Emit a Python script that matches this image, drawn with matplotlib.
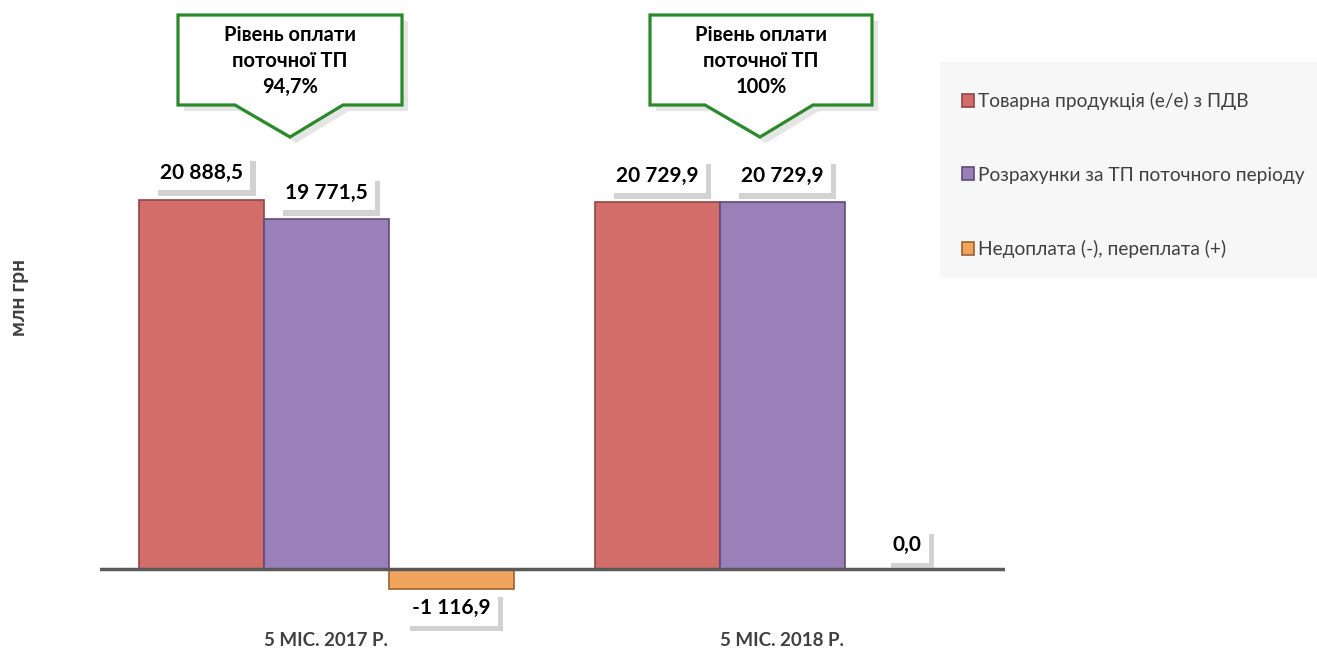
import numpy as np
import matplotlib.pyplot as plt
import matplotlib.patheffects as pe
from matplotlib.patches import Polygon, Rectangle

plt.rcParams['font.family'] = ['Lato', 'Open Sans', 'DejaVu Sans']

# дані
periods = ['5 МІС. 2017 Р.', '5 МІС. 2018 Р.']
series = ['Товарна продукція (е/е) з ПДВ',
          'Розрахунки за ТП поточного періоду',
          'Недоплата (-), переплата (+)']
produced = [20888.5, 20729.9]
paid = [19771.5, 20729.9]
balance = [-1116.9, 0.0]
pay_level = ['94,7%', '100%']
labels = [['20 888,5', '20 729,9'], ['19 771,5', '20 729,9'], ['-1 116,9', '0,0']]

colors = ['#D36D6A', '#9A80B9', '#F0A45E']
edges = ['#8E4644', '#5F4B78', '#9C6230']

W, H = 1317, 649
fig = plt.figure(figsize=(W/100, H/100), dpi=100)
ax = fig.add_axes([100/W, 1-620/H, 905/W, 610/H])

x = np.arange(len(periods))
w = 0.274
values = [produced, paid, balance]
for i, (vals, c, ec) in enumerate(zip(values, colors, edges)):
    xs = x + (i-1)*w
    ax.bar(xs, vals, width=w, color=c, edgecolor=ec, linewidth=1.2,
           label=series[i], zorder=2)
    for xi, v, s in zip(xs, vals, labels[i]):
        if v < 0:
            off = -14
        elif v == 0:
            off = 17
        else:
            off = 19
        t = ax.annotate(s, (xi, v), xytext=(0, off), textcoords='offset points',
                        ha='center', va='center', fontsize=15, fontweight='bold',
                        color='black', zorder=5,
                        bbox=dict(boxstyle='square,pad=0.35', fc='white', ec='none'))
        t.get_bbox_patch().set_path_effects([
            pe.withSimplePatchShadow(offset=(4, -4), shadow_rgbFace='#b5b5b5', alpha=0.6),
            pe.Normal()])

ax.axhline(0, color='#595959', lw=2.5, zorder=3)
ax.set_xlim(-0.496, 1.489)
ax.set_ylim(-2880, 31600)
ax.set_xticks(x)
ax.set_xticklabels(periods, fontsize=13.5, fontweight='bold', color='#404040')
ax.tick_params(axis='x', length=0, pad=9)
ax.set_yticks([])
for sp in ax.spines.values():
    sp.set_visible(False)
ax.patch.set_alpha(0)

fig.text(19/W, 1-297/H, 'млн грн', rotation=90, ha='center', va='center',
         fontsize=15, fontweight='bold', color='#404040')

# виноски
def px(xp, yp):
    return (xp/W, 1-yp/H)

for x0, x1, tip, lvl in [(178, 402, 290, pay_level[0]), (650, 872, 760, pay_level[1])]:
    pts = [(x0, 15), (x1, 15), (x1, 105), (tip+53, 105), (tip, 137),
           (tip-55, 105), (x0, 105)]
    shadow = Polygon([px(a+6, b+6) for a, b in pts], closed=True,
                     transform=fig.transFigure, fc='#d5d5d5', ec='none', alpha=0.6)
    box = Polygon([px(a, b) for a, b in pts], closed=True,
                  transform=fig.transFigure, fc='white', ec='#2A8A2A', lw=2.3)
    fig.patches.extend([shadow, box])
    cx, cy = px((x0+x1)/2, 61)
    fig.text(cx, cy, 'Рівень оплати\nпоточної ТП\n' + lvl, ha='center', va='center',
             fontsize=14.5, fontweight='bold', linespacing=1.4)

# легенда
fig.patches.append(Rectangle(px(940, 278), 377/W, 216/H, transform=fig.transFigure,
                             fc='#F7F7F7', ec='none', zorder=0))
fig.legend(loc='upper left', bbox_to_anchor=px(962, 92), frameon=False,
           fontsize=13.8, handlelength=0.65, handleheight=0.65, handletextpad=0.2,
           labelspacing=2.95, labelcolor='#404040', borderpad=0, borderaxespad=0)

fig.savefig('out.png', dpi=100)
